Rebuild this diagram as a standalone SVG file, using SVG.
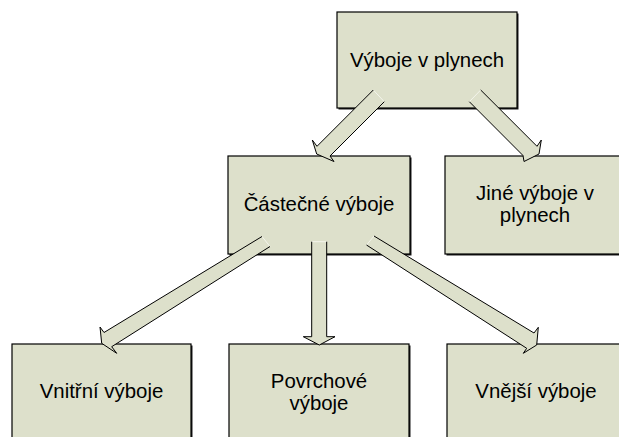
<svg xmlns="http://www.w3.org/2000/svg" width="619" height="437" viewBox="0 0 619 437">
  <style>
    .box { fill: #DDE0CB; stroke: #000; stroke-width: 1.2; }
    .shadow { fill: #1a1a1a; }
    .lbl { font-family: "Liberation Sans", Arial, sans-serif; font-size: 20.4px; fill: #000; text-anchor: middle; }
    .afill { fill: #DDE0CB; stroke: none; }
    .aedge { fill: none; stroke: #000; stroke-width: 1; stroke-linejoin: miter; }
    .aback { stroke: #F4F5EC; stroke-width: 1; }
  </style>
  <rect x="0" y="0" width="619" height="437" fill="#fff"/>

  <g id="node-vyboje-v-plynech">
    <rect class="shadow" x="338.5" y="13.5" width="180" height="96"/>
    <rect class="box" x="337" y="12" width="180" height="96"/>
    <text class="lbl" x="427" y="67">Výboje v plynech</text>
  </g>
  <g id="node-castecne-vyboje">
    <rect class="shadow" x="229.5" y="157.5" width="182" height="98"/>
    <rect class="box" x="228" y="156" width="182" height="98"/>
    <text class="lbl" x="319" y="211">Částečné výboje</text>
  </g>
  <g id="node-jine-vyboje">
    <rect class="shadow" x="446.5" y="157.5" width="180" height="98"/>
    <rect class="box" x="445" y="156" width="180" height="98"/>
    <text class="lbl" x="535" y="200">Jiné výboje v</text>
    <text class="lbl" x="535" y="222">plynech</text>
  </g>
  <g id="node-vnitrni-vyboje">
    <rect class="shadow" x="13.5" y="345.5" width="179" height="110"/>
    <rect class="box" x="12" y="344" width="179" height="110"/>
    <text class="lbl" x="101.5" y="398">Vnitřní výboje</text>
  </g>
  <g id="node-povrchove-vyboje">
    <rect class="shadow" x="230.5" y="345.5" width="180" height="110"/>
    <rect class="box" x="229" y="344" width="180" height="110"/>
    <text class="lbl" x="319" y="388">Povrchové</text>
    <text class="lbl" x="319" y="410">výboje</text>
  </g>
  <g id="node-vnejsi-vyboje">
    <rect class="shadow" x="448.5" y="345.5" width="180" height="110"/>
    <rect class="box" x="447" y="344" width="180" height="110"/>
    <text class="lbl" x="536" y="398">Vnější výboje</text>
  </g>

  <g id="connectors">
    <!-- Výboje v plynech -> Částečné výboje -->
    <polygon class="afill" points="373.3,90 317,146.3 312.3,140 316.7,154 334,161.5 330,156 384.3,101.7"/>
    <line class="aback" x1="373.3" y1="90" x2="384.3" y2="101.7"/>
    <polyline class="aedge" points="373.3,90 317,146.3 312.3,140 316.7,154 334,161.5 330,156 384.3,101.7"/>
    <!-- Výboje v plynech -> Jiné výboje -->
    <polygon class="afill" points="480.7,90 537,146.3 541.3,140 539,154 524,161.5 523,155.5 469.3,101.7"/>
    <line class="aback" x1="480.7" y1="90" x2="469.3" y2="101.7"/>
    <polyline class="aedge" points="480.7,90 537,146.3 541.3,140 539,154 524,161.5 523,155.5 469.3,101.7"/>
    <!-- Částečné -> Vnitřní -->
    <polygon class="afill" points="262,236.5 104,332.5 100,327 101.7,343.3 116.7,353.3 111.7,346.7 270,246.5"/>
    <line class="aback" x1="262" y1="236.5" x2="270" y2="246.5"/>
    <polyline class="aedge" points="262,236.5 104,332.5 100,327 101.7,343.3 116.7,353.3 111.7,346.7 270,246.5"/>
    <!-- Částečné -> Povrchové -->
    <polygon class="afill" points="311.7,241.7 311.7,336.7 303.3,336.7 319.3,345 335,336.7 326.7,336.7 326.7,241.7"/>
    <line class="aback" x1="311.7" y1="241.7" x2="326.7" y2="241.7"/>
    <polyline class="aedge" points="311.7,241.7 311.7,336.7 303.3,336.7 319.3,345 335,336.7 326.7,336.7 326.7,241.7"/>
    <!-- Částečné -> Vnější -->
    <polygon class="afill" points="374,236 534,333 538.3,327.3 536.7,345 523.3,353.3 526.7,348.3 366.5,245"/>
    <line class="aback" x1="374" y1="236" x2="366.5" y2="245"/>
    <polyline class="aedge" points="374,236 534,333 538.3,327.3 536.7,345 523.3,353.3 526.7,348.3 366.5,245"/>
  </g>
</svg>
